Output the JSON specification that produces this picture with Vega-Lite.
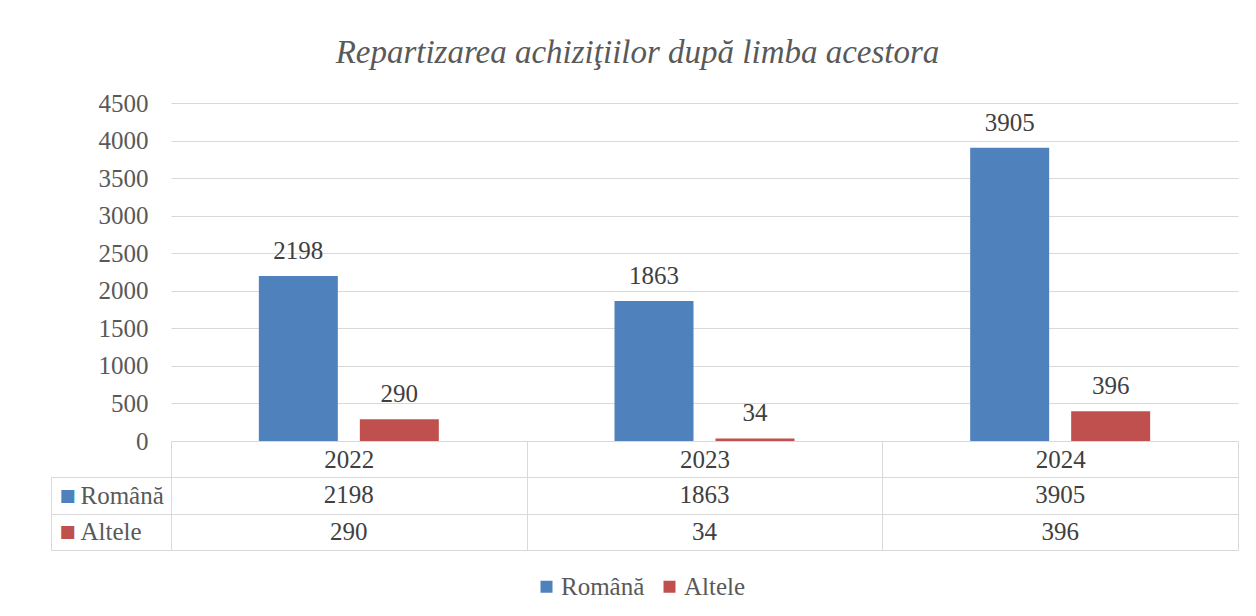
{
  "$schema": "https://vega.github.io/schema/vega-lite/v6.json",
  "padding": {"left": 50, "right": 19, "top": 37, "bottom": 14},
  "background": "white",
  "title": {
    "text": "Repartizarea achiziţiilor după limba acestora",
    "font": "Liberation Serif",
    "fontStyle": "italic",
    "fontWeight": "normal",
    "fontSize": 33,
    "color": "#595959",
    "anchor": "middle",
    "offset": 21,
    "dx": -7
  },
  "data": {
    "values": [
      {"year": "2022", "series": "Română", "value": 2198},
      {"year": "2022", "series": "Altele", "value": 290},
      {"year": "2023", "series": "Română", "value": 1863},
      {"year": "2023", "series": "Altele", "value": 34},
      {"year": "2024", "series": "Română", "value": 3905},
      {"year": "2024", "series": "Altele", "value": 396}
    ]
  },
  "spacing": 36,
  "bounds": "flush",
  "resolve": {"scale": {"x": "independent", "y": "independent"}},
  "vconcat": [
    {
      "width": 1067,
      "height": 338,
      "encoding": {
        "x": {"field": "year", "type": "nominal", "scale": {"paddingInner": 0.494, "paddingOuter": 0.247}, "axis": null},
        "xOffset": {"field": "series", "type": "nominal", "scale": {"domain": ["Română", "Altele"], "paddingInner": 0.218}},
        "y": {
          "field": "value", "type": "quantitative",
          "scale": {"domain": [0, 4500], "nice": false},
          "axis": {
            "values": [0, 500, 1000, 1500, 2000, 2500, 3000, 3500, 4000, 4500],
            "format": "d",
            "title": null, "grid": true, "gridColor": "#d9d9d9", "domain": false, "ticks": false,
            "labelPadding": 23, "labelFontSize": 25, "labelFont": "Liberation Serif", "labelColor": "#595959"
          }
        }
      },
      "layer": [
        {
          "mark": {"type": "bar"},
          "encoding": {
            "color": {
              "field": "series", "type": "nominal",
              "scale": {"domain": ["Română", "Altele"], "range": ["#4f81bd", "#c0504d"]},
              "legend": {
                "title": null, "orient": "none", "direction": "horizontal",
                "legendX": 363, "legendY": 471,
                "symbolType": "square", "symbolSize": 144, "symbolStrokeWidth": 0,
                "labelFont": "Liberation Serif", "labelFontSize": 25, "labelColor": "#595959",
                "labelOffset": 2, "columnPadding": 12
              }
            }
          }
        },
        {
          "mark": {"type": "text", "baseline": "alphabetic", "dy": -17, "fontSize": 25, "font": "Liberation Serif", "color": "#404040"},
          "encoding": {"text": {"field": "value", "type": "quantitative"}}
        }
      ]
    },
    {
      "width": 1067,
      "height": 73,
      "resolve": {"scale": {"y": "independent"}, "axis": {"y": "independent"}},
      "layer": [
        {
          "mark": {"type": "text", "fontSize": 25, "font": "Liberation Serif", "color": "#404040", "baseline": "middle"},
          "encoding": {
            "x": {
              "field": "year", "type": "nominal",
              "scale": {"paddingInner": 0, "paddingOuter": 0},
              "axis": {
                "orient": "top", "title": null, "tickBand": "extent", "grid": true, "gridColor": "#d9d9d9",
                "ticks": true, "tickSize": 36, "tickColor": "#d9d9d9", "domain": true, "domainColor": "#d9d9d9",
                "labelAngle": 0, "labelBaseline": "middle", "labelPadding": -18,
                "labelFontSize": 25, "labelFont": "Liberation Serif", "labelColor": "#404040"
              }
            },
            "y": {
              "field": "series", "type": "nominal",
              "scale": {"domain": ["Română", "Altele"], "paddingInner": 0, "paddingOuter": 0},
              "axis": {
                "orient": "left", "title": null, "tickBand": "extent", "grid": true, "gridColor": "#d9d9d9",
                "ticks": true, "tickSize": 120, "tickColor": "#d9d9d9", "domain": true, "domainColor": "#d9d9d9",
                "labelAlign": "left", "labelBaseline": "middle", "labelPadding": -29,
                "labelFontSize": 25, "labelFont": "Liberation Serif", "labelColor": "#595959"
              }
            },
            "text": {"field": "value", "type": "quantitative"}
          }
        },
        {
          "mark": {"type": "point", "opacity": 0},
          "encoding": {
            "x": {"field": "year", "type": "nominal"},
            "y": {
              "field": "series", "type": "nominal",
              "scale": {"domain": ["Română", "Altele"], "paddingInner": 0, "paddingOuter": 0},
              "axis": {
                "orient": "left", "title": null, "offset": 120, "grid": false,
                "ticks": false, "domain": true, "domainColor": "#d9d9d9",
                "labelExpr": "'■'", "labelAlign": "left", "labelBaseline": "middle", "labelPadding": -8,
                "labelFontSize": 17, "labelFont": "DejaVu Sans",
                "labelColor": {"condition": {"test": "datum.value === 'Română'", "value": "#4f81bd"}, "value": "#c0504d"}
              }
            }
          }
        }
      ]
    }
  ],
  "config": {"view": {"stroke": null}, "font": "Liberation Serif"}
}
